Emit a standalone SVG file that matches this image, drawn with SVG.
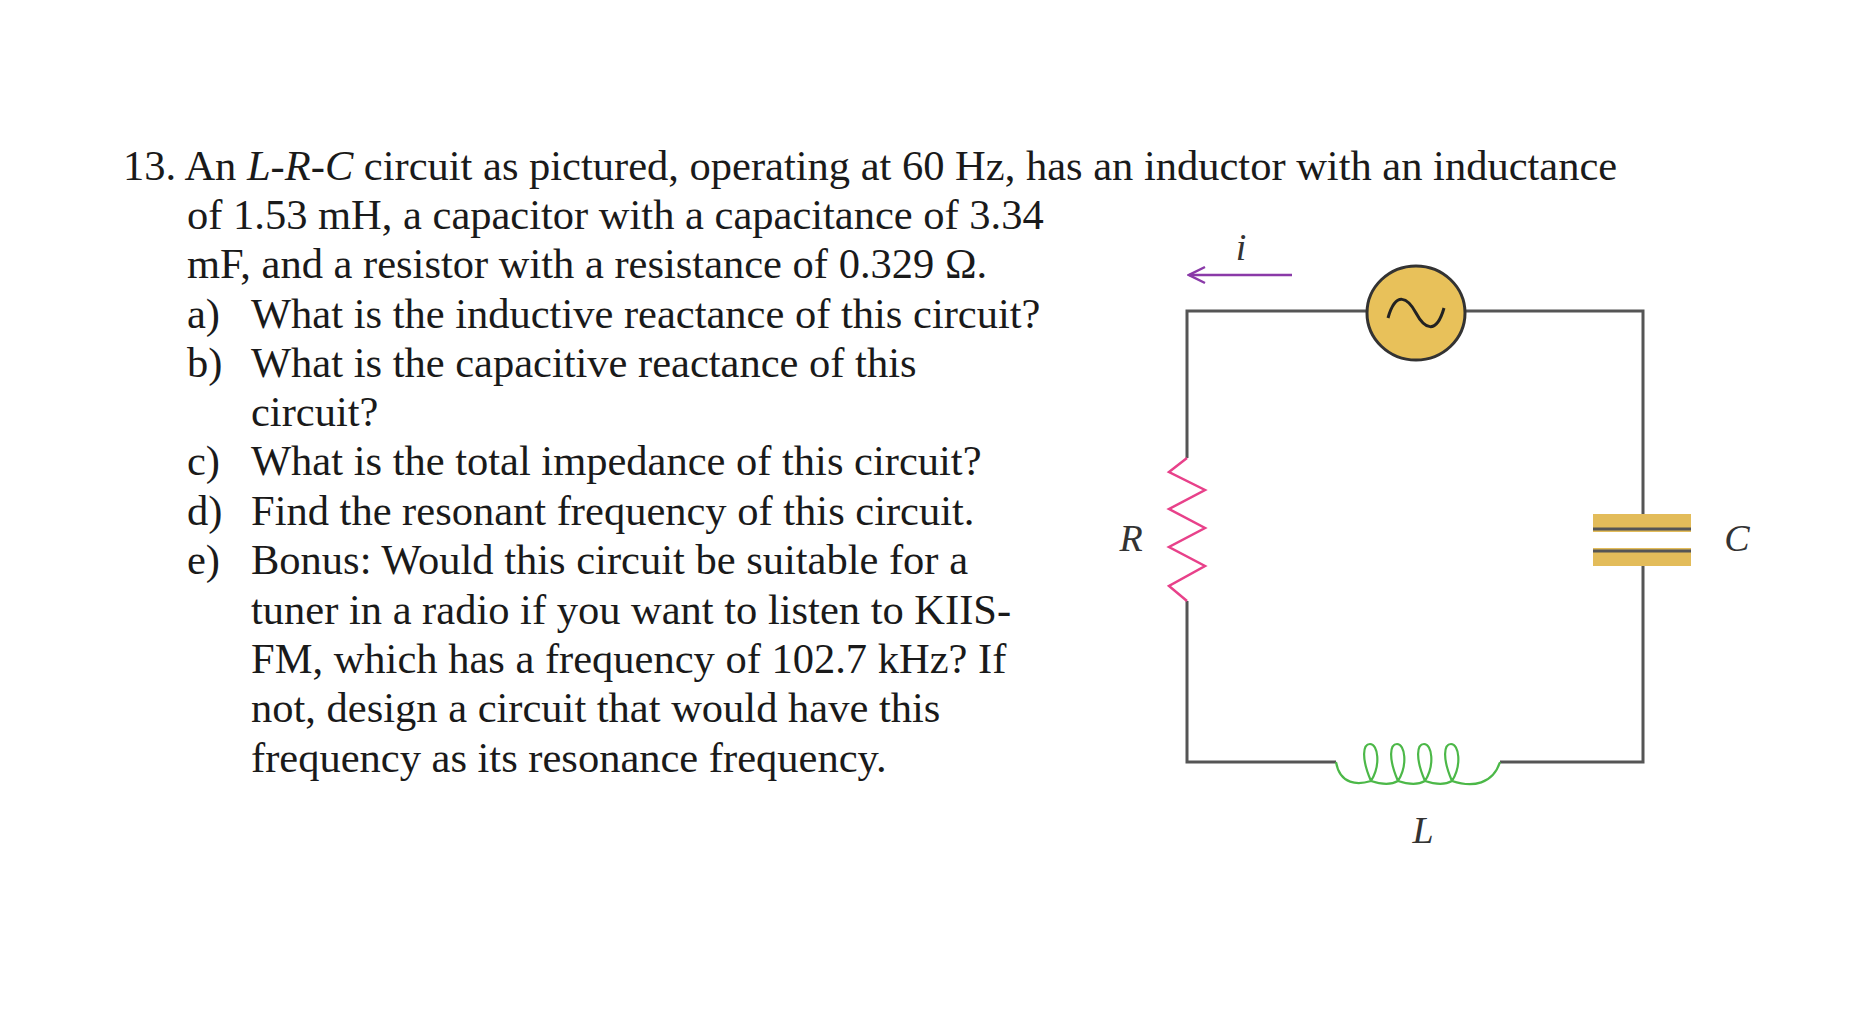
<svg xmlns="http://www.w3.org/2000/svg" width="1862" height="1034" viewBox="0 0 1862 1034">
<style>
.t{font-family:"Liberation Serif",serif;font-size:42.5px;fill:#1a1a1a}
.lbl{font-family:"Liberation Serif",serif;font-size:38px;font-style:italic;fill:#333}
.w{stroke:#555;stroke-width:3;fill:none}
</style>
<defs><marker id="ah" markerWidth="20" markerHeight="20" refX="18" refY="10" orient="auto" markerUnits="userSpaceOnUse"><path d="M2,2 L18,10 L2,18" fill="none" stroke="#8a3aa8" stroke-width="2.5"/></marker></defs>
<rect width="1862" height="1034" fill="#fff"/>
<g id="question">
<text class="t" x="123" y="180">13. An <tspan font-style="italic">L-R-C</tspan> circuit as pictured, operating at 60 Hz, has an inductor with an inductance</text>
<text class="t" x="187" y="229">of 1.53 mH, a capacitor with a capacitance of 3.34</text>
<text class="t" x="187" y="278">mF, and a resistor with a resistance of 0.329 Ω.</text>
<text class="t" x="187" y="328">a)</text><text class="t" x="251" y="328">What is the inductive reactance of this circuit?</text>
<text class="t" x="187" y="377">b)</text><text class="t" x="251" y="377">What is the capacitive reactance of this</text>
<text class="t" x="251" y="426">circuit?</text>
<text class="t" x="187" y="475">c)</text><text class="t" x="251" y="475">What is the total impedance of this circuit?</text>
<text class="t" x="187" y="525">d)</text><text class="t" x="251" y="525">Find the resonant frequency of this circuit.</text>
<text class="t" x="187" y="574">e)</text><text class="t" x="251" y="574">Bonus: Would this circuit be suitable for a</text>
<text class="t" x="251" y="624">tuner in a radio if you want to listen to KIIS-</text>
<text class="t" x="251" y="673">FM, which has a frequency of 102.7 kHz? If</text>
<text class="t" x="251" y="722">not, design a circuit that would have this</text>
<text class="t" x="251" y="772">frequency as its resonance frequency.</text>
</g>
<g transform="translate(-7,-2)">
<g id="connectors">
<path class="w" d="M1374,313 H1194 V460 M1194,603 V764 H1343 M1507,764 H1650 V568 M1650,516 V313 H1472"/>
<line x1="1299" y1="277" x2="1196" y2="277" stroke="#8a3aa8" stroke-width="2.5" marker-end="url(#ah)"/>
</g>
<g id="source">
<ellipse cx="1423" cy="315" rx="49" ry="47" fill="#e8c15a" stroke="#333" stroke-width="3"/>
<path d="M1395,320 C1403,292 1415,300 1423,315 C1431,330 1443,338 1451,310" fill="none" stroke="#222" stroke-width="3"/>
</g>
<g id="resistor"><path d="M1194,460 L1176,474 L1212,492 L1176,511 L1212,530 L1176,549 L1212,568 L1176,588 L1194,603" fill="none" stroke="#e8418a" stroke-width="2.5"/></g>
<g id="capacitor">
<rect x="1600" y="516" width="98" height="18" fill="#e3bc5a"/><line x1="1600" y1="531" x2="1698" y2="531" stroke="#555" stroke-width="3"/>
<rect x="1600" y="550" width="98" height="18" fill="#e3bc5a"/><line x1="1600" y1="553" x2="1698" y2="553" stroke="#555" stroke-width="3"/>
</g>
<g id="inductor"><path d="M1343,764 C1347,787 1365,787 1378,783 C1368,760 1370,746 1377,746 C1385,746 1388,767 1378,783 C1390,787 1398,787 1405,783 C1395,760 1397,746 1404,746 C1412,746 1415,767 1405,783 C1417,787 1425,787 1432,783 C1422,760 1424,746 1431,746 C1439,746 1442,767 1432,783 C1444,787 1452,787 1459,783 C1449,760 1451,746 1458,746 C1466,746 1469,767 1459,783 C1480,790 1500,786 1507,764" fill="none" stroke="#4cb848" stroke-width="2.2"/></g>
<g id="labels">
<text class="lbl" x="1248" y="262" text-anchor="middle">i</text>
<text class="lbl" x="1138" y="553" text-anchor="middle">R</text>
<text class="lbl" x="1744" y="553" text-anchor="middle">C</text>
<text class="lbl" x="1430" y="845" text-anchor="middle">L</text>
</g>
</g>
</svg>
